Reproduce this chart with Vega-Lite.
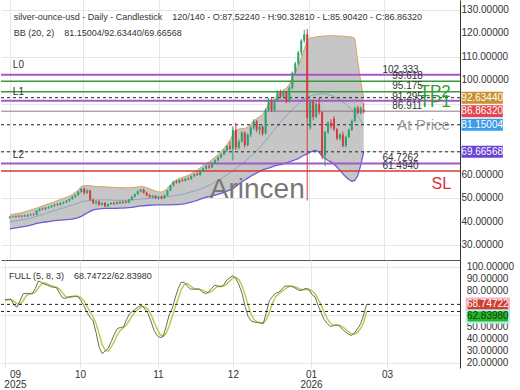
{
"$schema": "https://vega.github.io/schema/vega-lite/v6.json",
"padding": 0,
"spacing": 0,
"bounds": "flush",
"config": {"font": "Liberation Sans", "view": {"stroke": null}, "axis": {"gridColor": "#e6e6e6", "labelColor": "#333333", "labelFontSize": 10, "ticks": false, "title": null}},
"datasets": {"bars": [
{"i":0,"o":41.6,"h":42.4,"l":41.3,"c":42.1,"u":43.0,"m":40.0,"lo":37.0,"k":72.6,"d":72},
{"i":1,"o":42.1,"h":42.6,"l":41.8,"c":42.0,"u":43.2,"m":40.2,"lo":37.2,"k":73,"d":72.5},
{"i":2,"o":42.0,"h":42.7,"l":41.7,"c":42.5,"u":43.4,"m":40.4,"lo":37.4,"k":73,"d":72.8},
{"i":3,"o":42.5,"h":42.9,"l":41.9,"c":42.2,"u":43.6,"m":40.6,"lo":37.6,"k":68,"d":71.3},
{"i":4,"o":42.2,"h":42.8,"l":41.8,"c":42.6,"u":43.9,"m":40.8,"lo":37.8,"k":66.5,"d":69.2},
{"i":5,"o":42.6,"h":43.0,"l":42.1,"c":42.3,"u":44.2,"m":41.0,"lo":38.0,"k":72,"d":68.8},
{"i":6,"o":42.3,"h":43.1,"l":42.0,"c":42.9,"u":44.6,"m":41.3,"lo":38.3,"k":77.6,"d":72},
{"i":7,"o":42.9,"h":43.4,"l":42.4,"c":43.1,"u":45.0,"m":41.6,"lo":38.6,"k":78,"d":75.9},
{"i":8,"o":43.1,"h":43.6,"l":42.6,"c":42.9,"u":45.4,"m":41.9,"lo":38.9,"k":77.5,"d":77.7},
{"i":9,"o":42.9,"h":45.0,"l":42.7,"c":44.7,"u":45.8,"m":42.3,"lo":39.3,"k":77.6,"d":77.7},
{"i":10,"o":44.7,"h":45.8,"l":44.3,"c":45.5,"u":46.3,"m":42.7,"lo":39.5,"k":82,"d":79},
{"i":11,"o":45.5,"h":46.0,"l":44.9,"c":45.3,"u":46.8,"m":43.1,"lo":39.7,"k":88.2,"d":82.6},
{"i":12,"o":45.3,"h":46.3,"l":45.0,"c":46.0,"u":47.2,"m":43.5,"lo":39.9,"k":87,"d":85.7},
{"i":13,"o":46.0,"h":46.6,"l":45.5,"c":46.3,"u":47.6,"m":43.9,"lo":40.1,"k":85.5,"d":86.9},
{"i":14,"o":46.3,"h":47.0,"l":45.9,"c":46.8,"u":48.0,"m":44.3,"lo":40.3,"k":84.7,"d":85.7},
{"i":15,"o":46.8,"h":47.6,"l":46.3,"c":47.4,"u":48.5,"m":44.7,"lo":40.5,"k":83.5,"d":84.6},
{"i":16,"o":47.4,"h":47.9,"l":46.8,"c":47.1,"u":49.0,"m":45.1,"lo":40.6,"k":83,"d":83.7},
{"i":17,"o":47.1,"h":48.2,"l":46.9,"c":47.9,"u":49.4,"m":45.5,"lo":40.7,"k":82.5,"d":83},
{"i":18,"o":47.9,"h":48.6,"l":47.4,"c":48.3,"u":49.9,"m":45.9,"lo":40.8,"k":78,"d":81.2},
{"i":19,"o":48.3,"h":49.2,"l":47.9,"c":48.9,"u":50.4,"m":46.3,"lo":40.9,"k":74,"d":78.2},
{"i":20,"o":48.9,"h":50.0,"l":48.5,"c":49.7,"u":50.9,"m":46.7,"lo":41.0,"k":73.8,"d":75.3},
{"i":21,"o":49.7,"h":51.0,"l":49.3,"c":50.6,"u":51.6,"m":47.1,"lo":41.1,"k":75,"d":74.3},
{"i":22,"o":50.6,"h":51.6,"l":50.0,"c":51.3,"u":52.5,"m":47.5,"lo":41.4,"k":75.5,"d":74.8},
{"i":23,"o":51.3,"h":53.0,"l":51.0,"c":52.7,"u":53.6,"m":47.9,"lo":41.8,"k":75.6,"d":75.4},
{"i":24,"o":52.7,"h":54.3,"l":52.2,"c":54.0,"u":55.0,"m":48.4,"lo":42.3,"k":75.4,"d":75.5},
{"i":25,"o":54.0,"h":54.6,"l":51.5,"c":52.3,"u":55.3,"m":48.7,"lo":43.0,"k":72,"d":74.3},
{"i":26,"o":52.3,"h":53.8,"l":51.8,"c":53.2,"u":55.4,"m":48.9,"lo":43.7,"k":67.5,"d":71.6},
{"i":27,"o":53.2,"h":53.6,"l":48.9,"c":49.3,"u":55.3,"m":49.1,"lo":44.4,"k":62,"d":67.2},
{"i":28,"o":49.3,"h":49.9,"l":47.5,"c":48.0,"u":55.1,"m":49.2,"lo":45.0,"k":58,"d":62.5},
{"i":29,"o":48.0,"h":49.0,"l":47.3,"c":48.6,"u":55.0,"m":49.2,"lo":45.3,"k":55,"d":58.3},
{"i":30,"o":48.6,"h":49.0,"l":46.8,"c":47.2,"u":54.9,"m":49.3,"lo":45.5,"k":45,"d":52.7},
{"i":31,"o":47.2,"h":48.3,"l":46.9,"c":48.0,"u":54.9,"m":49.3,"lo":45.6,"k":33,"d":44.3},
{"i":32,"o":48.0,"h":48.4,"l":46.2,"c":46.6,"u":54.8,"m":49.3,"lo":45.7,"k":27.8,"d":35.3},
{"i":33,"o":46.6,"h":47.8,"l":46.3,"c":47.5,"u":54.7,"m":49.3,"lo":45.7,"k":30,"d":30.3},
{"i":34,"o":47.5,"h":48.3,"l":47.1,"c":48.0,"u":54.6,"m":49.2,"lo":45.7,"k":32.3,"d":30},
{"i":35,"o":48.0,"h":48.5,"l":47.2,"c":47.6,"u":54.6,"m":49.2,"lo":45.7,"k":38,"d":33.4},
{"i":36,"o":47.6,"h":48.6,"l":47.3,"c":48.3,"u":54.5,"m":49.1,"lo":45.7,"k":44,"d":38.1},
{"i":37,"o":48.3,"h":48.7,"l":47.5,"c":47.9,"u":54.5,"m":49.1,"lo":45.8,"k":48.7,"d":43.6},
{"i":38,"o":47.9,"h":48.9,"l":47.6,"c":48.6,"u":54.5,"m":49.1,"lo":45.8,"k":49.5,"d":47.4},
{"i":39,"o":48.6,"h":49.0,"l":47.8,"c":48.1,"u":54.4,"m":49.1,"lo":45.9,"k":50,"d":49.4},
{"i":40,"o":48.1,"h":49.6,"l":47.9,"c":49.3,"u":54.4,"m":49.2,"lo":46.0,"k":56,"d":51.8},
{"i":41,"o":49.3,"h":51.0,"l":49.0,"c":50.6,"u":54.5,"m":49.3,"lo":46.1,"k":61,"d":55.7},
{"i":42,"o":50.6,"h":52.0,"l":50.2,"c":51.7,"u":54.6,"m":49.4,"lo":46.3,"k":63,"d":60},
{"i":43,"o":51.7,"h":53.3,"l":51.4,"c":52.9,"u":54.8,"m":49.5,"lo":46.5,"k":65,"d":63},
{"i":44,"o":52.9,"h":54.0,"l":52.5,"c":53.6,"u":55.0,"m":49.6,"lo":46.7,"k":67,"d":65},
{"i":45,"o":53.6,"h":54.1,"l":51.9,"c":52.3,"u":54.8,"m":49.7,"lo":46.8,"k":68,"d":66.7},
{"i":46,"o":52.3,"h":52.8,"l":50.9,"c":51.2,"u":54.5,"m":49.8,"lo":46.9,"k":65,"d":66.7},
{"i":47,"o":51.2,"h":51.8,"l":50.1,"c":50.5,"u":54.0,"m":49.9,"lo":47.0,"k":61.3,"d":64.8},
{"i":48,"o":50.5,"h":51.4,"l":50.0,"c":51.0,"u":53.5,"m":50.0,"lo":47.1,"k":55,"d":60.4},
{"i":49,"o":51.0,"h":51.3,"l":49.6,"c":50.0,"u":53.0,"m":50.1,"lo":47.2,"k":47.4,"d":54.6},
{"i":50,"o":50.0,"h":51.0,"l":49.3,"c":50.6,"u":52.7,"m":50.3,"lo":47.2,"k":43,"d":48.5},
{"i":51,"o":50.6,"h":51.1,"l":49.5,"c":49.9,"u":52.6,"m":50.4,"lo":47.2,"k":41.1,"d":43.8},
{"i":52,"o":49.9,"h":51.6,"l":49.7,"c":51.2,"u":53.2,"m":50.5,"lo":47.2,"k":42,"d":42},
{"i":53,"o":51.2,"h":53.5,"l":51.0,"c":53.2,"u":54.3,"m":50.6,"lo":47.2,"k":50,"d":44.4},
{"i":54,"o":53.2,"h":55.6,"l":53.0,"c":55.3,"u":55.7,"m":50.8,"lo":47.2,"k":60,"d":50.7},
{"i":55,"o":55.3,"h":57.4,"l":55.0,"c":57.0,"u":57.0,"m":51.0,"lo":47.3,"k":65,"d":58.3},
{"i":56,"o":57.0,"h":57.6,"l":56.2,"c":56.6,"u":57.8,"m":51.2,"lo":47.3,"k":74,"d":66.3},
{"i":57,"o":56.6,"h":58.0,"l":56.3,"c":57.7,"u":58.4,"m":51.4,"lo":47.4,"k":82,"d":73.7},
{"i":58,"o":57.7,"h":58.4,"l":57.0,"c":57.4,"u":58.8,"m":51.6,"lo":47.5,"k":87.2,"d":81.1},
{"i":59,"o":57.4,"h":58.6,"l":57.1,"c":58.2,"u":59.2,"m":51.9,"lo":47.7,"k":87,"d":85.4},
{"i":60,"o":58.2,"h":59.0,"l":57.6,"c":58.0,"u":59.7,"m":52.3,"lo":48.0,"k":84,"d":86.1},
{"i":61,"o":58.0,"h":59.6,"l":57.8,"c":59.3,"u":60.4,"m":52.7,"lo":48.3,"k":81.4,"d":84.1},
{"i":62,"o":59.3,"h":60.5,"l":58.9,"c":60.2,"u":61.2,"m":53.0,"lo":48.7,"k":81.4,"d":82.3},
{"i":63,"o":60.2,"h":61.0,"l":59.5,"c":59.8,"u":61.9,"m":53.4,"lo":49.1,"k":81.5,"d":81.4},
{"i":64,"o":59.8,"h":62.0,"l":59.5,"c":61.6,"u":62.9,"m":53.8,"lo":49.6,"k":81.4,"d":81.4},
{"i":65,"o":61.6,"h":62.9,"l":61.2,"c":62.6,"u":63.8,"m":54.3,"lo":50.0,"k":79,"d":80.6},
{"i":66,"o":62.6,"h":64.0,"l":62.2,"c":63.5,"u":64.7,"m":54.9,"lo":50.4,"k":77.6,"d":79.3},
{"i":67,"o":63.5,"h":64.2,"l":62.5,"c":63.0,"u":65.4,"m":55.5,"lo":50.7,"k":79,"d":78.5},
{"i":68,"o":63.0,"h":65.2,"l":62.8,"c":64.9,"u":66.4,"m":56.1,"lo":51.0,"k":82,"d":79.5},
{"i":69,"o":64.9,"h":66.5,"l":64.5,"c":66.1,"u":67.4,"m":56.8,"lo":51.3,"k":84.7,"d":81.9},
{"i":70,"o":66.1,"h":67.8,"l":65.6,"c":67.3,"u":68.5,"m":57.5,"lo":51.6,"k":84,"d":83.6},
{"i":71,"o":67.3,"h":69.0,"l":66.9,"c":68.6,"u":69.7,"m":58.3,"lo":52.0,"k":83.3,"d":84},
{"i":72,"o":68.6,"h":70.6,"l":68.3,"c":70.2,"u":71.2,"m":59.1,"lo":52.5,"k":85,"d":84.1},
{"i":73,"o":70.2,"h":72.5,"l":69.8,"c":72.0,"u":72.8,"m":59.9,"lo":53.0,"k":89,"d":85.8},
{"i":74,"o":72.0,"h":74.0,"l":70.5,"c":71.0,"u":74.5,"m":60.7,"lo":53.5,"k":91,"d":88.3},
{"i":75,"o":71.0,"h":80.5,"l":66.0,"c":79.0,"u":77.0,"m":61.6,"lo":54.0,"k":92.7,"d":90.9},
{"i":76,"o":79.0,"h":82.0,"l":70.5,"c":71.5,"u":78.8,"m":62.6,"lo":55.0,"k":90,"d":91.2},
{"i":77,"o":71.5,"h":75.0,"l":70.8,"c":74.0,"u":79.3,"m":63.6,"lo":56.0,"k":85,"d":89.2},
{"i":78,"o":74.0,"h":78.5,"l":73.5,"c":77.8,"u":79.6,"m":64.6,"lo":56.9,"k":78,"d":84.3},
{"i":79,"o":77.8,"h":78.3,"l":71.5,"c":72.5,"u":79.6,"m":65.6,"lo":57.7,"k":67,"d":76.7},
{"i":80,"o":72.5,"h":77.5,"l":72.0,"c":76.8,"u":80.2,"m":66.7,"lo":58.5,"k":58.7,"d":67.9},
{"i":81,"o":76.8,"h":80.5,"l":76.0,"c":79.9,"u":81.3,"m":67.8,"lo":59.3,"k":55,"d":60.2},
{"i":82,"o":79.9,"h":83.5,"l":79.0,"c":82.6,"u":82.8,"m":68.9,"lo":60.0,"k":54,"d":55.9},
{"i":83,"o":82.6,"h":83.2,"l":78.0,"c":79.0,"u":83.8,"m":70.1,"lo":60.7,"k":53.7,"d":54.2},
{"i":84,"o":79.0,"h":81.0,"l":77.0,"c":80.3,"u":84.6,"m":71.4,"lo":61.4,"k":53.2,"d":53.6},
{"i":85,"o":80.3,"h":81.0,"l":76.5,"c":77.5,"u":85.5,"m":72.8,"lo":62.0,"k":53,"d":53.3},
{"i":86,"o":77.5,"h":88.0,"l":77.0,"c":87.4,"u":87.6,"m":74.3,"lo":62.4,"k":62,"d":56.1},
{"i":87,"o":87.4,"h":92.5,"l":86.6,"c":91.8,"u":89.8,"m":75.9,"lo":62.8,"k":72,"d":62.3},
{"i":88,"o":91.8,"h":92.3,"l":86.5,"c":87.2,"u":90.8,"m":77.5,"lo":63.2,"k":75.1,"d":69.7},
{"i":89,"o":87.2,"h":92.0,"l":86.8,"c":91.2,"u":92.0,"m":79.1,"lo":63.7,"k":78,"d":75},
{"i":90,"o":91.2,"h":95.8,"l":90.8,"c":95.2,"u":93.8,"m":80.7,"lo":64.0,"k":78.9,"d":77.3},
{"i":91,"o":95.2,"h":96.0,"l":92.3,"c":93.0,"u":94.8,"m":82.3,"lo":64.2,"k":81,"d":79.3},
{"i":92,"o":93.0,"h":95.6,"l":92.2,"c":95.0,"u":95.9,"m":83.7,"lo":64.6,"k":83.9,"d":81.3},
{"i":93,"o":95.0,"h":95.5,"l":90.3,"c":91.0,"u":96.6,"m":85.0,"lo":65.0,"k":84,"d":83},
{"i":94,"o":91.0,"h":97.5,"l":90.6,"c":96.8,"u":98.4,"m":86.3,"lo":65.4,"k":83.9,"d":83.9},
{"i":95,"o":96.8,"h":103.8,"l":96.2,"c":103.2,"u":101.0,"m":87.6,"lo":65.8,"k":83,"d":83.6},
{"i":96,"o":103.2,"h":107.8,"l":102.5,"c":107.1,"u":103.6,"m":88.8,"lo":66.3,"k":81.5,"d":82.8},
{"i":97,"o":107.1,"h":112.5,"l":106.0,"c":111.8,"u":106.2,"m":90.0,"lo":66.8,"k":80.1,"d":81.5},
{"i":98,"o":111.8,"h":117.5,"l":110.5,"c":116.8,"u":109.5,"m":91.1,"lo":67.6,"k":81,"d":80.9},
{"i":99,"o":116.8,"h":121.4,"l":115.8,"c":119.5,"u":113.2,"m":92.1,"lo":68.3,"k":82.1,"d":81.1},
{"i":100,"o":119.5,"h":121.8,"l":49.0,"c":84.0,"u":117.0,"m":92.8,"lo":68.8,"k":81,"d":81.4},
{"i":101,"o":80.0,"h":92.0,"l":79.0,"c":91.0,"u":118.0,"m":93.3,"lo":69.5,"k":77,"d":80},
{"i":102,"o":91.0,"h":91.8,"l":83.0,"c":84.5,"u":118.2,"m":93.7,"lo":70.1,"k":75,"d":77.7},
{"i":103,"o":84.5,"h":90.6,"l":83.8,"c":90.0,"u":118.4,"m":94.0,"lo":70.3,"k":68,"d":73.3},
{"i":104,"o":90.0,"h":92.5,"l":85.5,"c":86.5,"u":118.6,"m":94.2,"lo":69.5,"k":62,"d":68.3},
{"i":105,"o":86.5,"h":86.9,"l":66.5,"c":68.0,"u":118.7,"m":94.3,"lo":67.8,"k":56.2,"d":62.1},
{"i":106,"o":68.0,"h":78.5,"l":63.5,"c":78.0,"u":118.8,"m":94.2,"lo":66.8,"k":53,"d":57.1},
{"i":107,"o":78.0,"h":82.6,"l":77.2,"c":82.0,"u":118.9,"m":94.0,"lo":66.0,"k":50.4,"d":53.2},
{"i":108,"o":82.0,"h":83.5,"l":79.5,"c":80.5,"u":118.9,"m":93.6,"lo":65.4,"k":51,"d":51.5},
{"i":109,"o":83.8,"h":84.8,"l":78.6,"c":79.2,"u":118.9,"m":93.1,"lo":64.4,"k":51.9,"d":51.1},
{"i":110,"o":79.2,"h":79.8,"l":74.6,"c":75.3,"u":118.8,"m":92.5,"lo":63.2,"k":51,"d":51.3},
{"i":111,"o":75.3,"h":77.6,"l":74.5,"c":77.0,"u":118.8,"m":91.7,"lo":61.8,"k":48,"d":50.3},
{"i":112,"o":77.0,"h":78.3,"l":71.5,"c":72.2,"u":118.7,"m":90.8,"lo":60.3,"k":46,"d":48.3},
{"i":113,"o":72.2,"h":76.5,"l":71.5,"c":76.0,"u":118.6,"m":89.8,"lo":59.0,"k":44,"d":46},
{"i":114,"o":76.0,"h":79.5,"l":75.5,"c":79.0,"u":118.5,"m":88.7,"lo":57.9,"k":42.9,"d":44.3},
{"i":115,"o":79.0,"h":83.4,"l":78.5,"c":82.8,"u":118.3,"m":87.5,"lo":57.2,"k":45,"d":44},
{"i":116,"o":82.8,"h":88.9,"l":82.3,"c":88.3,"u":117.8,"m":86.2,"lo":57.5,"k":48.5,"d":45.5},
{"i":117,"o":88.3,"h":89.2,"l":85.6,"c":86.1,"u":108.0,"m":84.7,"lo":59.5,"k":52.5,"d":48.7},
{"i":118,"o":86.1,"h":88.8,"l":85.5,"c":88.2,"u":99.5,"m":83.0,"lo":64.0,"k":60,"d":53.7},
{"i":119,"o":87.5224,"h":90.3281,"l":85.9042,"c":86.8632,"u":92.6344,"m":81.15004,"lo":69.66568,"k":68.74722,"d":62.8398}
]},
"vconcat": [
{
"width": 459, "height": 260,
"layer": [
{"data": {"name": "bars"}, "mark": {"type": "area", "color": "#c6c6c6"},
 "encoding": {
  "x": {"field": "i", "type": "quantitative", "scale": {"domain": [-1.3, 149.7], "nice": false, "zero": false},
        "axis": {"values": [0, 24.7, 50.3, 75, 100.7, 125.7], "labels": false, "ticks": false, "domain": true, "domainColor": "#555555", "grid": true, "title": null}},
  "y": {"field": "u", "type": "quantitative", "scale": {"domain": [25.9, 131.95], "nice": false, "zero": false},
        "axis": {"orient": "right", "values": [30, 40, 50, 60, 70, 80, 90, 100, 110, 120, 130], "labels": false, "domain": true, "domainColor": "#333333", "grid": true, "title": null}},
  "y2": {"field": "lo"}}},
{"data": {"name": "bars"}, "mark": {"type": "line", "color": "#d9a35c", "strokeWidth": 1},
 "encoding": {"x": {"field": "i", "type": "quantitative"}, "y": {"field": "u", "type": "quantitative"}}},
{"data": {"name": "bars"}, "mark": {"type": "line", "color": "#6d5ad6", "strokeWidth": 1.3},
 "encoding": {"x": {"field": "i", "type": "quantitative"}, "y": {"field": "lo", "type": "quantitative"}}},
{"data": {"name": "bars"}, "mark": {"type": "line", "color": "#84a6c8", "strokeWidth": 1},
 "encoding": {"x": {"field": "i", "type": "quantitative"}, "y": {"field": "m", "type": "quantitative"}}},
{"data": {"values": [{"t": "Arincen", "i": 83.2, "p": 53.3}]}, "mark": {"type": "text", "fontSize": 28, "color": "#777777", "align": "center", "baseline": "middle"},
 "encoding": {"x": {"field": "i", "type": "quantitative"}, "y": {"field": "p", "type": "quantitative"}, "text": {"field": "t"}}},
{"data": {"values": [{"v": 102.333}, {"v": 91.295}, {"v": 64.7262}]}, "mark": {"type": "rule", "color": "#a05ac8", "strokeWidth": 2},
 "encoding": {"y": {"field": "v", "type": "quantitative"}}},
{"data": {"values": [{"v": 99.618}, {"v": 95.175}]}, "mark": {"type": "rule", "color": "#3a9a3a", "strokeWidth": 1.5},
 "encoding": {"y": {"field": "v", "type": "quantitative"}}},
{"data": {"values": [{"v": 92.6344}, {"v": 81.15004}, {"v": 69.66568}]}, "mark": {"type": "rule", "color": "#222222", "strokeWidth": 1, "strokeDash": [3, 3]},
 "encoding": {"y": {"field": "v", "type": "quantitative"}}},
{"data": {"values": [{"v": 86.911}]}, "mark": {"type": "rule", "color": "#808080", "strokeWidth": 1},
 "encoding": {"y": {"field": "v", "type": "quantitative"}}},
{"data": {"values": [{"v": 61.494}]}, "mark": {"type": "rule", "color": "#d9363e", "strokeWidth": 1.5},
 "encoding": {"y": {"field": "v", "type": "quantitative"}}},
{"data": {"name": "bars"}, "mark": {"type": "rule", "strokeWidth": 1},
 "encoding": {"x": {"field": "i", "type": "quantitative"}, "y": {"field": "l", "type": "quantitative"}, "y2": {"field": "h"},
  "color": {"condition": {"test": "datum.c >= datum.o", "value": "#27a36b"}, "value": "#d8393f"}}},
{"data": {"name": "bars"}, "mark": {"type": "bar", "orient": "vertical", "size": 2},
 "encoding": {"x": {"field": "i", "type": "quantitative"}, "y": {"field": "o", "type": "quantitative"}, "y2": {"field": "c"},
  "color": {"condition": {"test": "datum.c >= datum.o", "value": "#27a36b"}, "value": "#d8393f"}}},
{"data": {"values": [
  {"t": "silver-ounce-usd - Daily - Candlestick\u00a0\u00a0\u00a0\u00a0120/140 - O:87.52240 - H:90.32810 - L:85.90420 - C:86.86320", "i": 1.3, "p": 127.0},
  {"t": "BB (20, 2)\u00a0\u00a0\u00a0\u00a081.15004/92.63440/69.66568", "i": 1.3, "p": 120.2}]},
 "mark": {"type": "text", "fontSize": 9, "color": "#333333", "align": "left", "baseline": "middle"},
 "encoding": {"x": {"field": "i", "type": "quantitative"}, "y": {"field": "p", "type": "quantitative"}, "text": {"field": "t"}}},
{"data": {"values": [
  {"t": "L0", "i": 1, "p": 106.4}, {"t": "L1", "i": 1, "p": 95.2}, {"t": "L2", "i": 1, "p": 68.2},
  {"t": "102.333", "i": 125.3, "p": 104.3}, {"t": "99.618", "i": 128.6, "p": 102.0}, {"t": "95.175", "i": 128.6, "p": 97.5},
  {"t": "91.295", "i": 128.6, "p": 93.1}, {"t": "86.911", "i": 128.6, "p": 88.9},
  {"t": "64.7262", "i": 125.3, "p": 67.1}, {"t": "61.4940", "i": 125.3, "p": 63.7}]},
 "mark": {"type": "text", "fontSize": 10, "color": "#333333", "align": "left", "baseline": "middle"},
 "encoding": {"x": {"field": "i", "type": "quantitative"}, "y": {"field": "p", "type": "quantitative"}, "text": {"field": "t"}}},
{"data": {"values": [{"t": "TP2", "i": 137.8, "p": 95.2}, {"t": "TP1", "i": 137.8, "p": 90.7}]},
 "mark": {"type": "text", "fontSize": 17, "color": "#2f9e2f", "align": "left", "baseline": "middle"},
 "encoding": {"x": {"field": "i", "type": "quantitative"}, "y": {"field": "p", "type": "quantitative"}, "text": {"field": "t"}}},
{"data": {"values": [{"t": "At Price", "i": 130.3, "p": 81.1}]},
 "mark": {"type": "text", "fontSize": 15, "color": "#9a9a9a", "align": "left", "baseline": "middle"},
 "encoding": {"x": {"field": "i", "type": "quantitative"}, "y": {"field": "p", "type": "quantitative"}, "text": {"field": "t"}}},
{"data": {"values": [{"t": "SL", "i": 141.8, "p": 55.9}]},
 "mark": {"type": "text", "fontSize": 16, "color": "#d62f36", "align": "left", "baseline": "middle"},
 "encoding": {"x": {"field": "i", "type": "quantitative"}, "y": {"field": "p", "type": "quantitative"}, "text": {"field": "t"}}},
{"data": {"values": [{"v": 130, "t": "130.00000"}, {"v": 120, "t": "120.00000"}, {"v": 110, "t": "110.00000"}, {"v": 100, "t": "100.00000"}, {"v": 60, "t": "60.00000"}, {"v": 50, "t": "50.00000"}, {"v": 40, "t": "40.00000"}, {"v": 30, "t": "30.00000"}]},
 "mark": {"type": "text", "fontSize": 10, "color": "#333333", "align": "left", "baseline": "middle"},
 "encoding": {"x": {"datum": 151.9, "type": "quantitative"}, "y": {"field": "v", "type": "quantitative"}, "text": {"field": "t"}}},
{"data": {"values": [{"v": 92.6344, "lab": "92.63440"}, {"v": 86.8632, "lab": "86.86320"}, {"v": 81.15004, "lab": "81.15004"}, {"v": 69.66568, "lab": "69.66568"}]},
 "mark": {"type": "bar", "orient": "horizontal", "size": 12},
 "encoding": {"x": {"datum": 151.9, "type": "quantitative"}, "x2": {"datum": 165.8}, "y": {"field": "v", "type": "quantitative"},
  "color": {"field": "lab", "type": "nominal", "legend": null, "scale": {"domain": ["92.63440", "86.86320", "81.15004", "69.66568"], "range": ["#c8912f", "#e2464e", "#3b9be6", "#6a42d4"]}}}},
{"data": {"values": [{"v": 92.6344, "lab": "92.63440"}, {"v": 86.8632, "lab": "86.86320"}, {"v": 81.15004, "lab": "81.15004"}, {"v": 69.66568, "lab": "69.66568"}]},
 "mark": {"type": "text", "fontSize": 10, "color": "#ffffff", "align": "center", "baseline": "middle"},
 "encoding": {"x": {"datum": 158.85, "type": "quantitative"}, "y": {"field": "v", "type": "quantitative"}, "text": {"field": "lab"}}}
]
},
{
"width": 459, "height": 108,
"layer": [
{"data": {"name": "bars"}, "mark": {"type": "line", "color": "#b9cc55", "strokeWidth": 1.5},
 "encoding": {
  "x": {"field": "i", "type": "quantitative", "scale": {"domain": [-1.3, 149.7], "nice": false, "zero": false},
        "axis": {"values": [0, 24.7, 50.3, 75, 100.7, 125.7], "labelExpr": "datum.value < 10 ? ['09','2025'] : datum.value < 40 ? '10' : datum.value < 60 ? '11' : datum.value < 90 ? '12' : datum.value < 110 ? ['01','2026'] : '03'",
                 "labelOffset": {"condition": {"test": "datum.value < 10", "value": 10}, "value": 0},
                 "labelPadding": 1, "labelLineHeight": 10, "labelFontSize": 10, "domain": false, "ticks": false, "grid": true, "title": null}},
  "y": {"field": "d", "type": "quantitative", "scale": {"domain": [20, 101.5], "nice": false, "zero": false},
        "axis": {"orient": "right", "values": [20, 30, 40, 50, 60, 70, 80, 90, 100], "labels": false, "domain": true, "domainColor": "#333333", "grid": true, "title": null}}}},
{"data": {"name": "bars"}, "mark": {"type": "line", "color": "#6f6c4c", "strokeWidth": 1},
 "encoding": {"x": {"field": "i", "type": "quantitative"}, "y": {"field": "k", "type": "quantitative"}}},
{"data": {"values": [{"v": 68.74722}, {"v": 62.8398}]}, "mark": {"type": "rule", "color": "#222222", "strokeWidth": 1, "strokeDash": [3, 3]},
 "encoding": {"y": {"field": "v", "type": "quantitative"}}},
{"data": {"values": [{"t": "FULL (5, 8, 3)\u00a0\u00a0\u00a0\u00a068.74722/62.83980", "i": 1.3, "p": 92.5}]},
 "mark": {"type": "text", "fontSize": 9, "color": "#333333", "align": "left", "baseline": "middle"},
 "encoding": {"x": {"field": "i", "type": "quantitative"}, "y": {"field": "p", "type": "quantitative"}, "text": {"field": "t"}}},
{"data": {"values": [{"v": 100, "t": "100.00000"}, {"v": 90, "t": "90.00000"}, {"v": 80, "t": "80.00000"}, {"v": 50, "t": "50.00000"}, {"v": 40, "t": "40.00000"}, {"v": 30, "t": "30.00000"}, {"v": 20, "t": "20.00000"}]},
 "mark": {"type": "text", "fontSize": 10, "color": "#333333", "align": "left", "baseline": "middle"},
 "encoding": {"x": {"datum": 151.9, "type": "quantitative"}, "y": {"field": "v", "type": "quantitative"}, "text": {"field": "t"}}},
{"data": {"values": [{"v": 68.74722, "lab": "68.74722"}]},
 "mark": {"type": "bar", "orient": "horizontal", "size": 12, "color": "#cf3f2f", "stroke": "#f5b3cc", "strokeWidth": 2},
 "encoding": {"x": {"datum": 151.9, "type": "quantitative"}, "x2": {"datum": 165.8}, "y": {"field": "v", "type": "quantitative"}}},
{"data": {"values": [{"v": 68.74722, "lab": "68.74722"}]},
 "mark": {"type": "text", "fontSize": 10, "color": "#ffffff", "align": "center", "baseline": "middle"},
 "encoding": {"x": {"datum": 158.85, "type": "quantitative"}, "y": {"field": "v", "type": "quantitative"}, "text": {"field": "lab"}}},
{"data": {"values": [{"v": 62.8398, "lab": "62.83980"}]},
 "mark": {"type": "bar", "orient": "horizontal", "size": 12, "color": "#24b824", "stroke": "#b3f0f0", "strokeWidth": 2, "yOffset": 5},
 "encoding": {"x": {"datum": 151.9, "type": "quantitative"}, "x2": {"datum": 165.8}, "y": {"field": "v", "type": "quantitative"}}},
{"data": {"values": [{"v": 62.8398, "lab": "62.83980"}]},
 "mark": {"type": "text", "fontSize": 10, "color": "#143814", "align": "center", "baseline": "middle", "yOffset": 5},
 "encoding": {"x": {"datum": 158.85, "type": "quantitative"}, "y": {"field": "v", "type": "quantitative"}, "text": {"field": "lab"}}}
]
}
]
}
